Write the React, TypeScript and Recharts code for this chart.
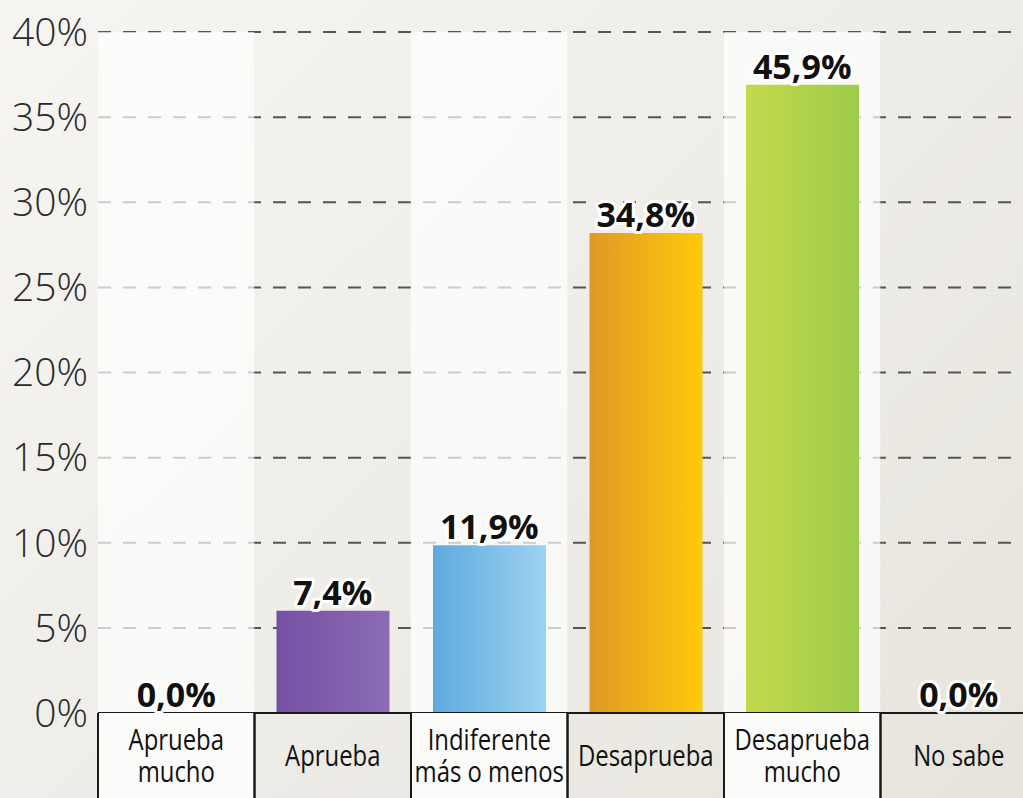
import { Bar, Cell, ComposedChart, CartesianGrid, Scatter, XAxis, YAxis } from "recharts";

const CATEGORIES = ["Aprueba mucho", "Aprueba", "Indiferente más o menos", "Desaprueba", "Desaprueba mucho", "No sabe"];
const TICK_LINES = [["Aprueba", "mucho"], ["Aprueba"], ["Indiferente", "más o menos"], ["Desaprueba"], ["Desaprueba", "mucho"], ["No sabe"]];
const BAR_HEIGHTS = [0, 6.0, 9.85, 28.2, 36.9, 0];
const VALUE_LABELS = ["0,0%", "7,4%", "11,9%", "34,8%", "45,9%", "0,0%"];
const SHADE = [40, 0, 40, 0, 40, 0];
const Y_TICKS = [0, 5, 10, 15, 20, 25, 30, 35, 40];

const GRADIENTS = [
  ["#7450a4", "#8b6cb4"],
  ["#7450a4", "#8b6cb4"],
  ["#5eabdf", "#9dd2f1"],
  ["#e09827", "#ffca0a"],
  ["#c3d94c", "#9fcb4b"],
  ["#9fcb4b", "#9fcb4b"]
];

const W = 1040;
const H = 798;
const MARGIN = { top: 32, right: 3, left: 0, bottom: 0 };
const Y_W = 98;
const X_H = 85;
const BAND = (W - MARGIN.left - MARGIN.right - Y_W) / CATEGORIES.length;
const NARROW = "'Open Sans', sans-serif";

const data = CATEGORIES.map((name, i) => ({
  name,
  value: BAR_HEIGHTS[i],
  shade: SHADE[i],
  label: VALUE_LABELS[i]
}));

function CategoryTick(props: any) {
  const { x, y, payload } = props;
  const i = payload.index;
  const lines = TICK_LINES[i];
  const lh = 33;
  const base = 53 - ((lines.length - 1) * lh) / 2;
  return (
    <g>
      <rect x={x - BAND / 2} y={y} width={BAND} height={X_H} fill={i % 2 === 0 ? "#fbfbfa" : "transparent"} />
      <line x1={x - BAND / 2} x2={x - BAND / 2} y1={y} y2={y + X_H} stroke="#1a1a1a" strokeWidth={2} />
      <line x1={x + BAND / 2} x2={x + BAND / 2} y1={y} y2={y + X_H} stroke="#1a1a1a" strokeWidth={2} />
      <g transform={`translate(${x},${y + base}) scale(0.81,1)`}>
        <text x={0} y={0} textAnchor="middle" fill="#111" fontSize={29.5} fontFamily={NARROW}>
          {lines.map((t, k) => (
            <tspan key={k} x={0} dy={k === 0 ? 0 : lh}>
              {t}
            </tspan>
          ))}
        </text>
      </g>
    </g>
  );
}

// white column behind every other category, full band wide
function ShadeColumn(props: any) {
  const { x, y, width, height } = props;
  if (!height) return null;
  const cx = x + width / 2;
  return <rect x={cx - BAND / 2} y={y} width={BAND} height={height} fill="#ffffff" fillOpacity={0.7} />;
}

function ValueLabel(props: any) {
  const { cx, cy, payload } = props;
  return (
    <text
      x={cx}
      y={cy - 6}
      textAnchor="middle"
      fontSize={34}
      fontWeight={700}
      fontFamily="'Open Sans', sans-serif"
      fill="#111"
      stroke="#fff"
      strokeWidth={6}
      strokeLinejoin="round"
      paintOrder="stroke"
    >
      {payload.label}
    </text>
  );
}

export default function App() {
  return (
    <div
      style={{
        position: "absolute",
        left: 0,
        top: 0,
        width: 1023,
        height: 798,
        overflow: "hidden",
        background: "linear-gradient(135deg, #f6f5f2 0%, #eeece7 55%, #e7e4dd 100%)"
      }}
    >
      <ComposedChart width={W} height={H} data={data} margin={MARGIN}>
        <defs>
          {GRADIENTS.map((g, i) => (
            <linearGradient key={i} id={`grad${i}`} x1="0" y1="0" x2="1" y2="0">
              <stop offset="0%" stopColor={g[0]} />
              <stop offset="100%" stopColor={g[1]} />
            </linearGradient>
          ))}
        </defs>
        <CartesianGrid vertical={false} stroke="#555" strokeWidth={2} strokeDasharray="13 12" />
        <XAxis xAxisId="bg" dataKey="name" hide />
        <XAxis
          dataKey="name"
          height={X_H}
          tickLine={false}
          tickSize={0}
          tickMargin={0}
          interval={0}
          axisLine={{ stroke: "#1a1a1a", strokeWidth: 2 }}
          tick={<CategoryTick />}
        />
        <YAxis
          width={Y_W}
          domain={[0, 40]}
          ticks={Y_TICKS}
          tickLine={false}
          axisLine={false}
          tickMargin={4}
          tickFormatter={(v) => `${v}%`}
          tick={{ fill: "#2a2a2a", fontSize: 39, fontWeight: 300, fontFamily: "'Open Sans', sans-serif" }}
        />
        <Bar xAxisId="bg" dataKey="shade" barSize={100} shape={<ShadeColumn />} isAnimationActive={false} />
        <Bar dataKey="value" barSize={113} isAnimationActive={false}>
          {data.map((d, i) => (
            <Cell key={d.name} fill={`url(#grad${i})`} />
          ))}
        </Bar>
        <Scatter dataKey="value" isAnimationActive={false} shape={<ValueLabel />} />
      </ComposedChart>
    </div>
  );
}
